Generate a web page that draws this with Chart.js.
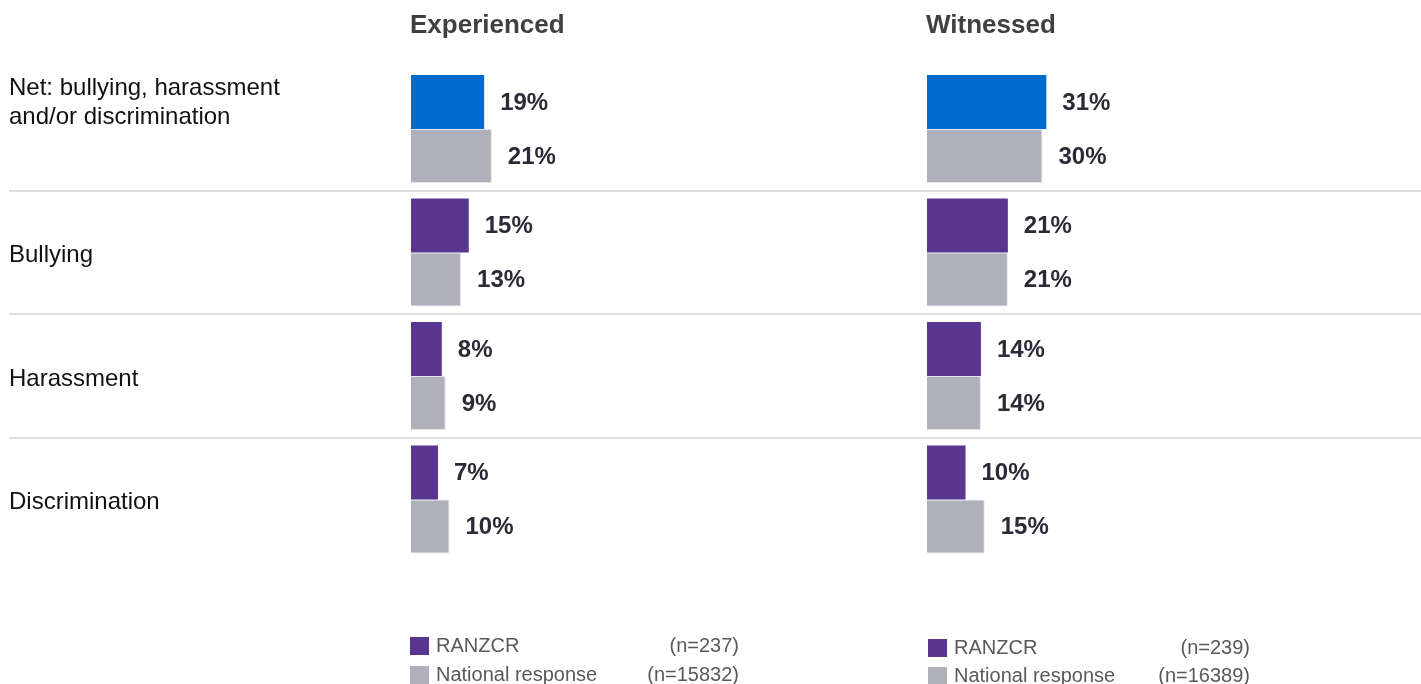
<!DOCTYPE html>
<html>
<head>
<meta charset="utf-8">
<script src="https://cdn.jsdelivr.net/npm/chart.js@4.4.0/dist/chart.umd.min.js"></script>
<style>
  html, body { margin: 0; padding: 0; background: #fff; }
  #wrap { position: relative; width: 1421px; height: 684px; overflow: hidden; }
  #wrap canvas { position: absolute; top: 0; }
  #expChart { left: 0; }
  #witChart { left: 900px; }
</style>
</head>
<body>
<div id="wrap">
  <canvas id="expChart" width="900" height="684"></canvas>
  <canvas id="witChart" width="521" height="684"></canvas>
</div>
<script>
// rows (the first label gets two empty lines so its text sits next to the top bar)
const categories = [
  ['Net: bullying, harassment', 'and/or discrimination', '', ''],
  'Bullying',
  'Harassment',
  'Discrimination'
];
const seriesNames = ['RANZCR', 'National response'];

const experiencedRanzcr   = [19, 15, 8, 7];
const experiencedNational = [21, 13, 9, 10];
const witnessedRanzcr     = [31, 21, 14, 10];
const witnessedNational   = [30, 21, 14, 15];

const experiencedN = [237, 15832];
const witnessedN   = [239, 16389];

const BLUE = '#006BCE';
const PURPLE = '#58358F';
const GREY = '#B0B0BC';
const FONT = '"Liberation Sans", Arial, Helvetica, sans-serif';

// separators, panel heading, value labels and the little legend underneath
const panelDecor = {
  id: 'panelDecor',
  beforeDatasetsDraw(chart, args, opts) {
    const ctx = chart.ctx;
    const y = chart.scales.y;
    ctx.save();
    ctx.strokeStyle = '#DEDEDE';
    ctx.lineWidth = 2;
    for (let i = 0; i < y.ticks.length - 1; i++) {
      const py = Math.round((y.getPixelForTick(i) + y.getPixelForTick(i + 1)) / 2);
      ctx.beginPath();
      ctx.moveTo(opts.lineStart, py);
      ctx.lineTo(chart.width, py);
      ctx.stroke();
    }
    ctx.fillStyle = '#404040';
    ctx.font = 'bold 26px ' + FONT;
    ctx.textBaseline = 'middle';
    ctx.textAlign = 'left';
    ctx.fillText(opts.title, chart.chartArea.left - 1, 26);
    ctx.restore();
  },
  afterDatasetsDraw(chart, args, opts) {
    const ctx = chart.ctx;
    ctx.save();
    ctx.textBaseline = 'middle';
    ctx.textAlign = 'left';
    ctx.font = 'bold 24px ' + FONT;
    ctx.fillStyle = '#2B2B38';
    chart.data.datasets.forEach((ds, di) => {
      chart.getDatasetMeta(di).data.forEach((bar, i) => {
        ctx.fillText(ds.data[i] + '%', bar.x + 16, bar.y + 1);
      });
    });

    const lg = opts.legend;
    ctx.font = '20px ' + FONT;
    chart.data.datasets.forEach((ds, di) => {
      const cy = lg.y[di];
      ctx.fillStyle = di === 0 ? PURPLE : GREY;
      ctx.fillRect(lg.x, cy - 9, 19, 18);
      ctx.fillStyle = '#595959';
      ctx.textAlign = 'left';
      ctx.fillText(ds.label, lg.x + 26, cy);
      ctx.textAlign = 'right';
      ctx.fillText('(n=' + lg.n[di] + ')', lg.nRight, cy);
    });
    ctx.restore();
  }
};

function makePanel(canvasId, title, ranzcr, national, n, o) {
  return new Chart(document.getElementById(canvasId), {
    type: 'bar',
    data: {
      labels: categories,
      datasets: [
        {
          label: seriesNames[0],
          data: ranzcr,
          backgroundColor: ranzcr.map((_, i) => (i === 0 ? BLUE : PURPLE)),
          borderWidth: 0
        },
        {
          label: seriesNames[1],
          data: national,
          backgroundColor: GREY,
          borderColor: '#E6E6EC',
          borderWidth: 1
        }
      ]
    },
    options: {
      indexAxis: 'y',
      responsive: false,
      animation: false,
      layout: { padding: { top: 67.25, bottom: 122.75, left: o.padLeft, right: o.padRight } },
      datasets: { bar: { barPercentage: 1, categoryPercentage: 0.8745 } },
      scales: {
        x: { display: false, min: 0, max: 127 },
        y: {
          display: o.showLabels,
          grid: { display: false },
          border: { display: false },
          ticks: {
            crossAlign: 'far',
            padding: 0,
            labelOffset: 3,
            color: '#111111',
            font: { family: FONT, size: 24, lineHeight: 1.21 }
          },
          afterFit(scale) { scale.width = o.labelWidth; }
        }
      },
      plugins: {
        legend: { display: false },
        tooltip: { enabled: false },
        panelDecor: {
          title: title,
          lineStart: o.lineStart,
          legend: { x: o.legendX, y: o.legendY, nRight: o.nRight, n: n }
        }
      }
    },
    plugins: [panelDecor]
  });
}

makePanel('expChart', 'Experienced', experiencedRanzcr, experiencedNational, experiencedN, {
  padLeft: 9, padRight: 0, showLabels: true, labelWidth: 402, lineStart: 9,
  legendX: 410, legendY: [646, 675], nRight: 739
});
makePanel('witChart', 'Witnessed', witnessedRanzcr, witnessedNational, witnessedN, {
  padLeft: 27, padRight: 5, showLabels: false, labelWidth: 0, lineStart: 0,
  legendX: 28, legendY: [648, 676], nRight: 350
});
</script>
</body>
</html>
